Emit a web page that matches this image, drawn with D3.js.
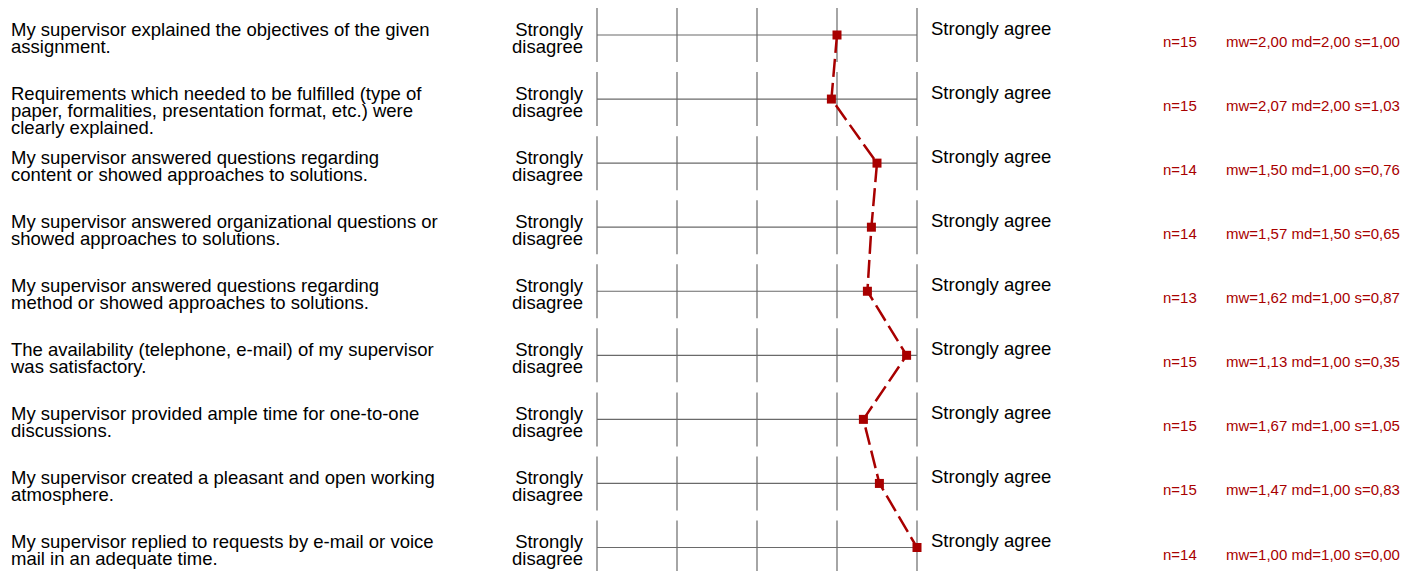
<!DOCTYPE html>
<html>
<head>
<meta charset="utf-8">
<script src="https://cdn.jsdelivr.net/npm/d3@7"></script>
<style>
  html, body { margin: 0; padding: 0; background: #fff; }
  svg { display: block; font-family: Arial, "Liberation Sans", sans-serif; }
</style>
</head>
<body>
<svg id="chart" width="1406" height="571"></svg>
<script>
const questions = [
  ["My supervisor explained the objectives of the given", "assignment."],
  ["Requirements which needed to be fulfilled (type of", "paper, formalities, presentation format, etc.) were", "clearly explained."],
  ["My supervisor answered questions regarding", "content or showed approaches to solutions."],
  ["My supervisor answered organizational questions or", "showed approaches to solutions."],
  ["My supervisor answered questions regarding", "method or showed approaches to solutions."],
  ["The availability (telephone, e-mail) of my supervisor", "was satisfactory."],
  ["My supervisor provided ample time for one-to-one", "discussions."],
  ["My supervisor created a pleasant and open working", "atmosphere."],
  ["My supervisor replied to requests by e-mail or voice", "mail in an adequate time."]
];
const nValues  = [15, 15, 14, 14, 13, 15, 15, 15, 14];
const mwValues = [2.00, 2.07, 1.50, 1.57, 1.62, 1.13, 1.67, 1.47, 1.00];
const mdValues = [2.00, 2.00, 1.00, 1.50, 1.00, 1.00, 1.00, 1.00, 1.00];
const sValues  = [1.00, 1.03, 0.76, 0.65, 0.87, 0.35, 1.05, 0.83, 0.00];
const scaleTicks = [1, 2, 3, 4, 5];
const leftPole = ["Strongly", "disagree"];
const rightPole = "Strongly agree";

const svg = d3.select("#chart");
const red = "#a80000";
const grid = "#6a6a6a";
const fs = 18.5;
const lh = 17;

const x = d3.scaleLinear().domain([5, 1]).range([597, 917]);
const y = d3.scalePoint().domain(d3.range(questions.length)).range([35, 547.5]);

const locale = d3.formatLocale({decimal: ",", thousands: ".", grouping: [3], currency: ["", ""]});
const fmt = locale.format(".2f");

const rows = svg.selectAll("g.row").data(questions).join("g")
  .attr("class", "row")
  .attr("transform", (d, i) => `translate(0,${y(i)})`);

// question text
rows.append("text")
  .attr("font-size", fs)
  .attr("fill", "#000")
  .selectAll("tspan").data(d => d).join("tspan")
  .attr("x", 11)
  .attr("y", (d, j) => 0.5 + j * lh)
  .text(d => d);

// left pole
rows.append("text")
  .attr("text-anchor", "end")
  .attr("font-size", fs)
  .attr("fill", "#000")
  .selectAll("tspan").data(leftPole).join("tspan")
  .attr("x", 583)
  .attr("y", (d, j) => 0.5 + j * lh)
  .text(d => d);

// right pole
rows.append("text")
  .attr("x", 931)
  .attr("y", -0.5)
  .attr("font-size", fs)
  .attr("fill", "#000")
  .text(rightPole);

// grid: vertical lines
rows.selectAll("line.v").data(scaleTicks).join("line")
  .attr("class", "v")
  .attr("x1", d => x(d)).attr("x2", d => x(d))
  .attr("y1", -27).attr("y2", 27)
  .attr("stroke", grid).attr("stroke-width", 1.2);

// horizontal line
rows.append("line")
  .attr("x1", x(5)).attr("x2", x(1))
  .attr("y1", 0).attr("y2", 0)
  .attr("stroke", grid).attr("stroke-width", 1.2);

// stats
rows.append("text")
  .attr("x", 1163).attr("y", 12)
  .attr("font-size", 15).attr("fill", red)
  .text((d, i) => "n=" + nValues[i]);
rows.append("text")
  .attr("x", 1226).attr("y", 12)
  .attr("font-size", 15).attr("fill", red)
  .text((d, i) => "mw=" + fmt(mwValues[i]) + " md=" + fmt(mdValues[i]) + " s=" + fmt(sValues[i]));

// profile line
const line = d3.line().x(d => x(d)).y((d, i) => y(i));
svg.append("path")
  .datum(mwValues)
  .attr("d", line)
  .attr("fill", "none")
  .attr("stroke", red)
  .attr("stroke-width", 2.5)
  .attr("stroke-dasharray", "18,6");

svg.selectAll("rect.mk").data(mwValues).join("rect")
  .attr("class", "mk")
  .attr("x", d => x(d) - 4.5)
  .attr("y", (d, i) => y(i) - 4.5)
  .attr("width", 9).attr("height", 9)
  .attr("fill", red);
</script>
</body>
</html>
